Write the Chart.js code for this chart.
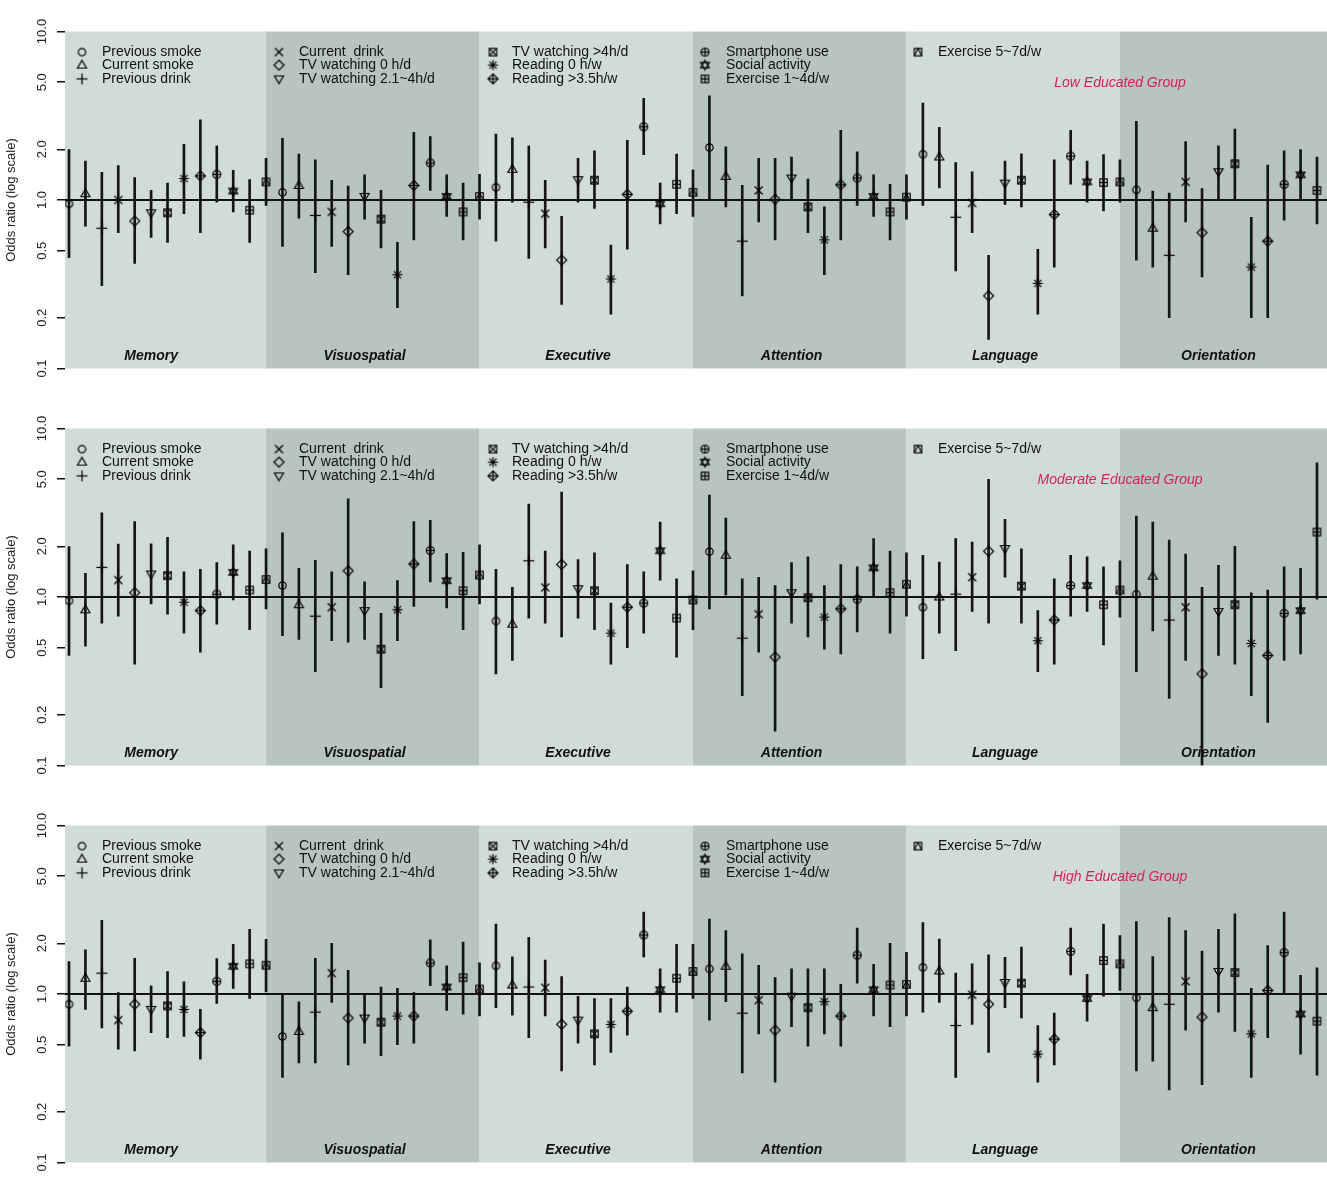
<!DOCTYPE html>
<html>
<head>
<meta charset="utf-8">
<script src="https://cdn.jsdelivr.net/npm/chart.js@4.4.1/dist/chart.umd.min.js"></script>
<style>
  html, body { margin: 0; padding: 0; background: #fff; }
  #wrap { position: relative; width: 1327px; height: 1185px; overflow: hidden; }
  canvas { position: absolute; left: 0; }
</style>
</head>
<body>
<div id="wrap">
  <canvas id="p0" width="1327" height="397" style="top:0px"></canvas>
  <canvas id="p1" width="1327" height="397" style="top:397px"></canvas>
  <canvas id="p2" width="1327" height="391" style="top:794px"></canvas>
</div>
<script>
// ─── Data ─────────────────────────────────────────────────────────────────────

const domains = ['Memory', 'Visuospatial', 'Executive', 'Attention', 'Language', 'Orientation'];

const variables = [
  'Previous smoke', 'Current smoke', 'Previous drink',
  'Current  drink', 'TV watching 0 h/d', 'TV watching 2.1~4h/d',
  'TV watching >4h/d', 'Reading 0 h/w', 'Reading >3.5h/w',
  'Smartphone use', 'Social activity', 'Exercise 1~4d/w',
  'Exercise 5~7d/w',
];

// R-style plotting symbols, one per variable (pch 1..12, 14)
const symbols = [
  'circle', 'triUp', 'plus', 'cross', 'diamond', 'triDown', 'squareCross',
  'asterisk', 'diamondPlus', 'circlePlus', 'hourglass', 'squarePlus', 'squareTri',
];

const groupNames = ['Low Educated Group', 'Moderate Educated Group', 'High Educated Group'];

const yTicks      = [0.1, 0.2, 0.5, 1, 2, 5, 10];
const yTickLabels = ['0.1', '0.2', '0.5', '1.0', '2.0', '5.0', '10.0'];

// Odds ratios and 95% CI, one row per domain, 13 variables per row

const lowOR = [
  [0.95, 1.09, 0.68, 1.00, 0.75, 0.84, 0.84, 1.34, 1.39, 1.42, 1.13, 0.87, 1.28],
  [1.11, 1.22, 0.81, 0.85, 0.65, 1.05, 0.77, 0.36, 1.22, 1.66, 1.05, 0.85, 1.05],
  [1.19, 1.52, 0.97, 0.83, 0.44, 1.32, 1.31, 0.34, 1.08, 2.72, 0.95, 1.24, 1.11],
  [2.05, 1.38, 0.57, 1.14, 1.01, 1.35, 0.91, 0.58, 1.23, 1.35, 1.05, 0.85, 1.04],
  [1.87, 1.80, 0.79, 0.96, 0.27, 1.26, 1.31, 0.32, 0.82, 1.82, 1.28, 1.27, 1.28],
  [1.15, 0.68, 0.47, 1.28, 0.64, 1.47, 1.64, 0.40, 0.57, 1.24, 1.41, 1.14, 1.20],
];
const lowLo = [
  [0.455, 0.70, 0.31, 0.64, 0.42, 0.60, 0.56, 0.83, 0.64, 0.97, 0.85, 0.56, 0.93],
  [0.53, 0.78, 0.37, 0.53, 0.36, 0.77, 0.52, 0.23, 0.58, 1.14, 0.80, 0.58, 0.77],
  [0.57, 0.97, 0.45, 0.52, 0.24, 0.97, 0.89, 0.21, 0.51, 1.86, 0.72, 0.83, 0.80],
  [1.00, 0.91, 0.27, 0.74, 0.58, 1.00, 0.64, 0.36, 0.58, 0.93, 0.80, 0.58, 0.77],
  [0.93, 1.18, 0.38, 0.64, 0.149, 0.94, 0.91, 0.21, 0.40, 1.24, 0.97, 0.86, 0.97],
  [0.44, 0.40, 0.20, 0.74, 0.35, 1.02, 1.00, 0.20, 0.20, 0.76, 1.00, 0.72, 0.80],
];
const lowHi = [
  [1.99, 1.70, 1.46, 1.60, 1.36, 1.14, 1.26, 2.14, 2.99, 2.10, 1.50, 1.32, 1.77],
  [2.32, 1.87, 1.73, 1.31, 1.21, 1.41, 1.14, 0.56, 2.52, 2.38, 1.41, 1.26, 1.42],
  [2.46, 2.34, 2.10, 1.31, 0.80, 1.77, 1.96, 0.54, 2.26, 4.01, 1.26, 1.87, 1.51],
  [4.15, 2.07, 1.22, 1.77, 1.77, 1.80, 1.33, 0.91, 2.59, 1.93, 1.41, 1.24, 1.41],
  [3.76, 2.70, 1.67, 1.47, 0.47, 1.70, 1.88, 0.51, 1.73, 2.59, 1.70, 1.86, 1.73],
  [2.93, 1.13, 1.10, 2.22, 1.17, 2.10, 2.64, 0.79, 1.61, 1.96, 1.99, 1.80, 1.80],
];

const modOR = [
  [0.95, 0.84, 1.50, 1.26, 1.06, 1.37, 1.34, 0.93, 0.83, 1.04, 1.40, 1.10, 1.27],
  [1.17, 0.90, 0.77, 0.87, 1.43, 0.83, 0.49, 0.84, 1.57, 1.89, 1.25, 1.09, 1.35],
  [0.72, 0.69, 1.64, 1.14, 1.56, 1.12, 1.09, 0.61, 0.87, 0.92, 1.88, 0.75, 0.96],
  [1.86, 1.77, 0.57, 0.79, 0.44, 1.06, 0.99, 0.76, 0.85, 0.97, 1.49, 1.06, 1.19],
  [0.87, 1.00, 1.04, 1.31, 1.87, 1.94, 1.16, 0.55, 0.73, 1.17, 1.17, 0.90, 1.10],
  [1.04, 1.33, 0.73, 0.87, 0.35, 0.82, 0.90, 0.53, 0.45, 0.80, 0.83, 2.43, 1.00],
];
const modLo = [
  [0.45, 0.51, 0.70, 0.77, 0.40, 0.91, 0.79, 0.61, 0.47, 0.69, 0.96, 0.64, 0.85],
  [0.59, 0.56, 0.36, 0.55, 0.54, 0.56, 0.29, 0.55, 0.88, 1.23, 0.86, 0.64, 0.91],
  [0.35, 0.42, 0.75, 0.70, 0.58, 0.75, 0.64, 0.40, 0.50, 0.61, 1.26, 0.44, 0.64],
  [0.85, 1.03, 0.26, 0.47, 0.16, 0.70, 0.58, 0.49, 0.46, 0.62, 1.00, 0.61, 0.77],
  [0.43, 0.61, 0.48, 0.82, 0.70, 1.31, 0.70, 0.36, 0.40, 0.77, 0.82, 0.52, 0.76],
  [0.36, 0.63, 0.25, 0.42, 0.10, 0.45, 0.40, 0.26, 0.18, 0.42, 0.46, 0.97, 0.50],
];
const modHi = [
  [1.99, 1.38, 3.16, 2.06, 2.80, 2.07, 2.26, 1.41, 1.46, 1.60, 2.04, 1.87, 1.93],
  [2.40, 1.48, 1.65, 1.41, 3.83, 1.23, 0.80, 1.25, 2.80, 2.85, 1.81, 1.84, 2.04],
  [1.46, 1.14, 3.56, 1.87, 4.20, 1.67, 1.83, 0.92, 1.56, 1.41, 2.78, 1.28, 1.43],
  [4.03, 2.94, 1.28, 1.31, 1.17, 1.60, 1.73, 1.17, 1.56, 1.51, 2.22, 1.87, 1.83],
  [1.77, 1.61, 2.22, 2.12, 4.99, 2.89, 1.93, 0.83, 1.28, 1.77, 1.73, 1.51, 1.64],
  [3.02, 2.78, 2.18, 1.80, 1.14, 1.54, 2.00, 1.06, 1.10, 1.51, 1.48, 6.26, 2.00],
];

const highOR = [
  [0.87, 1.24, 1.33, 0.70, 0.87, 0.81, 0.85, 0.81, 0.59, 1.19, 1.46, 1.51, 1.48],
  [0.56, 0.60, 0.78, 1.33, 0.72, 0.72, 0.68, 0.74, 0.74, 1.53, 1.10, 1.25, 1.07],
  [1.47, 1.13, 1.10, 1.09, 0.66, 0.70, 0.58, 0.66, 0.79, 2.24, 1.06, 1.24, 1.36],
  [1.41, 1.46, 0.77, 0.92, 0.61, 0.97, 0.83, 0.90, 0.74, 1.70, 1.06, 1.13, 1.14],
  [1.44, 1.37, 0.65, 0.99, 0.87, 1.17, 1.16, 0.44, 0.54, 1.79, 0.94, 1.58, 1.51],
  [0.95, 0.83, 0.87, 1.19, 0.73, 1.36, 1.34, 0.58, 1.05, 1.76, 0.76, 0.69, 1.00],
];
const highLo = [
  [0.49, 0.81, 0.63, 0.47, 0.46, 0.59, 0.55, 0.56, 0.41, 0.88, 1.08, 0.94, 1.03],
  [0.32, 0.39, 0.39, 0.89, 0.38, 0.51, 0.43, 0.50, 0.51, 1.12, 0.80, 0.76, 0.74],
  [0.83, 0.75, 0.55, 0.74, 0.35, 0.51, 0.38, 0.45, 0.57, 1.66, 0.78, 0.78, 0.94],
  [0.70, 0.90, 0.34, 0.58, 0.30, 0.64, 0.49, 0.58, 0.49, 1.16, 0.74, 0.64, 0.74],
  [0.78, 0.89, 0.32, 0.66, 0.45, 0.83, 0.72, 0.30, 0.38, 1.30, 0.69, 0.97, 1.05],
  [0.35, 0.40, 0.27, 0.61, 0.29, 0.78, 0.60, 0.32, 0.55, 1.00, 0.44, 0.33, 0.50],
];
const highHi = [
  [1.56, 1.83, 2.74, 1.02, 1.63, 1.12, 1.36, 1.18, 0.81, 1.62, 1.97, 2.42, 2.11],
  [1.00, 0.90, 1.63, 2.00, 1.38, 0.99, 1.10, 1.08, 1.02, 2.10, 1.47, 2.03, 1.53],
  [2.60, 1.66, 2.17, 1.59, 1.27, 0.97, 0.94, 0.94, 1.10, 3.06, 1.41, 1.97, 1.97],
  [2.78, 2.38, 1.73, 1.48, 1.25, 1.41, 1.41, 1.41, 1.14, 2.46, 1.50, 2.00, 1.77],
  [2.65, 2.12, 1.33, 1.51, 1.71, 1.65, 1.90, 0.65, 0.77, 2.46, 1.31, 2.60, 2.22],
  [2.69, 1.67, 2.84, 2.38, 1.80, 2.42, 2.99, 1.08, 1.94, 3.06, 1.29, 1.43, 2.00],
];

// ─── Styling ──────────────────────────────────────────────────────────────────

const FONT      = '"Liberation Sans", Arial, sans-serif';
const BAND_LITE = '#d1dcd9';
const BAND_DARK = '#b7c4c2';
const GROUP_RED = '#d81e55';

const legendSymX = [82, 279, 493, 705, 918];
const legendTxtX = [102, 299, 512, 726, 938];

// ─── Symbols (R pch look-alikes) drawn on small canvases ─────────────────────

function makeSymbol(kind) {
  const c = document.createElement('canvas');
  c.width = 15; c.height = 15;
  const g = c.getContext('2d');
  g.translate(7.5, 7.5);
  g.strokeStyle = '#000';
  g.lineWidth = 1.2;

  const poly = (pts) => {
    g.beginPath();
    pts.forEach(([x, y], i) => (i ? g.lineTo(x, y) : g.moveTo(x, y)));
    g.closePath();
    g.stroke();
  };
  const seg = (x1, y1, x2, y2) => {
    g.beginPath(); g.moveTo(x1, y1); g.lineTo(x2, y2); g.stroke();
  };
  const circ = (r) => {
    g.beginPath(); g.arc(0, 0, r, 0, Math.PI * 2); g.stroke();
  };
  const sq = (h) => g.strokeRect(-h, -h, 2 * h, 2 * h);

  switch (kind) {
    case 'circle':      circ(3.7); break;
    case 'triUp':       poly([[0, -4.8], [4.5, 3], [-4.5, 3]]); break;
    case 'plus':        seg(-5.5, 0, 5.5, 0); seg(0, -5.5, 0, 5.5); break;
    case 'cross':       seg(-4, -4, 4, 4); seg(-4, 4, 4, -4); break;
    case 'diamond':     poly([[0, -5], [5, 0], [0, 5], [-5, 0]]); break;
    case 'triDown':     poly([[0, 4.8], [4.5, -3], [-4.5, -3]]); break;
    case 'squareCross': sq(3.7); seg(-3.7, -3.7, 3.7, 3.7); seg(-3.7, 3.7, 3.7, -3.7); break;
    case 'asterisk':
      seg(-5, 0, 5, 0); seg(0, -5, 0, 5);
      seg(-3.6, -3.6, 3.6, 3.6); seg(-3.6, 3.6, 3.6, -3.6);
      break;
    case 'diamondPlus':
      poly([[0, -5], [5, 0], [0, 5], [-5, 0]]);
      seg(-5, 0, 5, 0); seg(0, -5, 0, 5);
      break;
    case 'circlePlus':  circ(4); seg(-4, 0, 4, 0); seg(0, -4, 0, 4); break;
    case 'hourglass':
      poly([[0, -4.8], [4.4, 2.7], [-4.4, 2.7]]);
      poly([[0, 4.8], [4.4, -2.7], [-4.4, -2.7]]);
      break;
    case 'squarePlus':  sq(3.7); seg(-3.7, 0, 3.7, 0); seg(0, -3.7, 0, 3.7); break;
    case 'squareTri':   sq(3.7); seg(0, -3.7, -3.7, 3.7); seg(0, -3.7, 3.7, 3.7); break;
  }
  return c;
}

const symbolImages = symbols.map(makeSymbol);

// ─── Plugin: domain bands, reference line, legend and labels ─────────────────

const forestDecor = {
  id: 'forestDecor',

  beforeDatasetsDraw(chart) {
    const { ctx, chartArea: a, scales: { x, y } } = chart;
    ctx.save();
    domains.forEach((d, k) => {
      const x0 = Math.max(a.left, x.getPixelForValue(13 * k));
      const x1 = Math.min(a.right, x.getPixelForValue(13 * k + 13));
      ctx.fillStyle = k % 2 === 0 ? BAND_LITE : BAND_DARK;
      ctx.fillRect(x0, a.top, x1 - x0, a.bottom - a.top);
    });
    const y1 = y.getPixelForValue(1);
    ctx.strokeStyle = '#111';
    ctx.lineWidth = 2;
    ctx.beginPath();
    ctx.moveTo(a.left, y1);
    ctx.lineTo(a.right, y1);
    ctx.stroke();
    ctx.restore();
  },

  afterDatasetsDraw(chart, args, opts) {
    const { ctx, chartArea: a, scales: { x } } = chart;
    ctx.save();

    // legend: 5 columns of 3
    ctx.font = `14px ${FONT}`;
    ctx.fillStyle = '#111';
    ctx.textAlign = 'left';
    ctx.textBaseline = 'middle';
    const rowY = [a.top + 20.6, a.top + 33.6, a.top + 47.4];
    variables.forEach((name, i) => {
      const col = Math.floor(i / 3), row = i % 3;
      ctx.drawImage(symbolImages[i], legendSymX[col] - 7.5, rowY[row] - 7.5);
      ctx.fillText(name, legendTxtX[col], rowY[row]);
    });

    // group label
    ctx.font = `italic 14px ${FONT}`;
    ctx.fillStyle = GROUP_RED;
    ctx.textAlign = 'center';
    ctx.fillText(opts.title, 1120, a.top + 51.6);

    // domain labels
    ctx.font = `italic bold 14px ${FONT}`;
    ctx.fillStyle = '#111';
    domains.forEach((d, k) => {
      ctx.fillText(d, x.getPixelForValue(13 * k + 6), a.bottom - 12);
    });
    ctx.restore();
  },

  afterDraw(chart) {
    const { ctx, scales: { y } } = chart;
    ctx.save();
    ctx.font = `13px ${FONT}`;
    ctx.fillStyle = '#222';
    ctx.textAlign = 'center';
    ctx.textBaseline = 'middle';
    yTicks.forEach((v, i) => {
      ctx.save();
      ctx.translate(42, y.getPixelForValue(v));
      ctx.rotate(-Math.PI / 2);
      ctx.fillText(yTickLabels[i], 0, 0);
      ctx.restore();
    });
    ctx.restore();
  },
};

// ─── Build one panel ──────────────────────────────────────────────────────────

function renderPanel(canvasId, title, orRows, loRows, hiRows) {
  const canvas = document.getElementById(canvasId);
  const H = canvas.height;

  const ciData = [];
  domains.forEach((d, k) => {
    variables.forEach((v, j) => {
      ciData.push({ x: 13 * k + j + 1, y: [loRows[k][j], hiRows[k][j]] });
    });
  });

  const pointSets = variables.map((name, j) => ({
    type:        'scatter',
    label:       name,
    data:        domains.map((d, k) => ({ x: 13 * k + j + 1, y: orRows[k][j] })),
    pointStyle:  symbolImages[j],
    pointRadius: 5,
    order:       0,
  }));

  return new Chart(canvas, {
    type: 'scatter',
    data: {
      datasets: [
        {
          type:            'bar',
          label:           '95% CI',
          data:            ciData,
          backgroundColor: '#151515',
          borderWidth:     0,
          barThickness:    2,
          order:           1,
        },
        ...pointSets,
      ],
    },
    options: {
      responsive: false,
      animation:  false,
      events:     [],
      layout: {
        autoPadding: false,
        padding: { top: 31.5, bottom: H - 368.5, left: 0, right: 0 },
      },
      plugins: {
        legend:  { display: false },
        tooltip: { enabled: false },
        forestDecor: { title },
      },
      scales: {
        x: {
          type:    'linear',
          display: false,
          offset:  false,
          grid:    { offset: false },
          min:     0.756,
          max:     77.61,
        },
        y: {
          type:     'logarithmic',
          position: 'left',
          min:      0.1,
          max:      10,
          afterBuildTicks: (s) => { s.ticks = yTicks.map(v => ({ value: v })); },
          afterFit:        (s) => { s.width = 65; },
          ticks:  { display: false },
          grid:   { drawOnChartArea: false, drawTicks: true, tickLength: 8, color: '#111', lineWidth: 1.5 },
          border: { display: false },
          title:  {
            display: true,
            text:    'Odds ratio (log scale)',
            color:   '#222',
            font:    { family: FONT, size: 13 },
            padding: { top: 4, bottom: 4 },
          },
        },
      },
    },
    plugins: [forestDecor],
  });
}

renderPanel('p0', groupNames[0], lowOR,  lowLo,  lowHi);
renderPanel('p1', groupNames[1], modOR,  modLo,  modHi);
renderPanel('p2', groupNames[2], highOR, highLo, highHi);
</script>
</body>
</html>
